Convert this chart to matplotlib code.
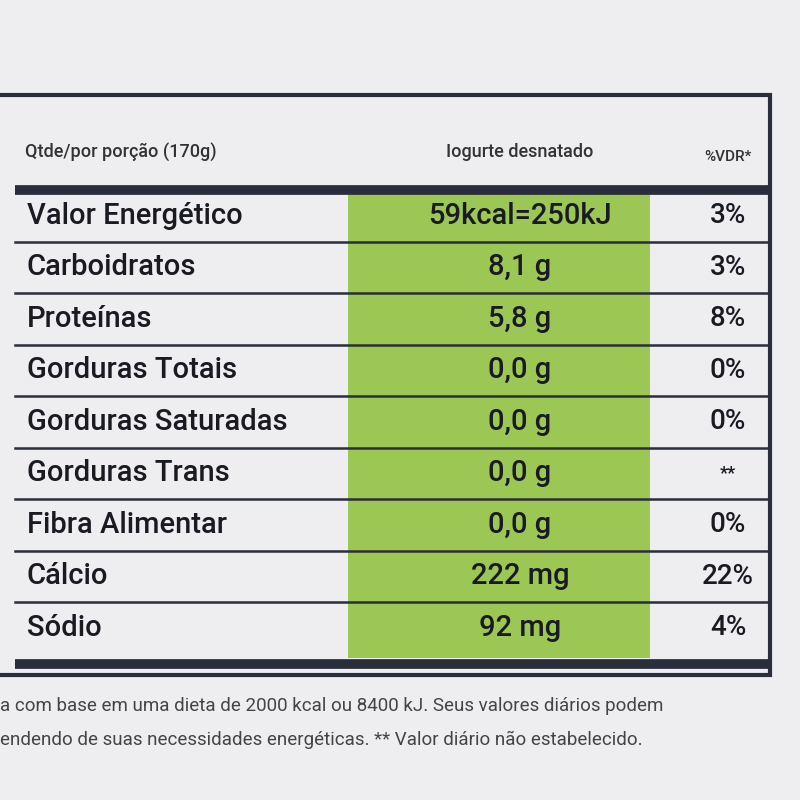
import matplotlib
matplotlib.use("Agg")
import matplotlib.pyplot as plt
from matplotlib.patches import Rectangle

nutrients = ["Valor Energético", "Carboidratos", "Proteínas", "Gorduras Totais",
             "Gorduras Saturadas", "Gorduras Trans", "Fibra Alimentar", "Cálcio", "Sódio"]
amounts = ["59kcal=250kJ", "8,1 g", "5,8 g", "0,0 g", "0,0 g", "0,0 g", "0,0 g", "222 mg", "92 mg"]
vdr = ["3%", "3%", "8%", "0%", "0%", "**", "0%", "22%", "4%"]
headers = ["Qtde/por porção (170g)", "Iogurte desnatado", "%VDR*"]
footer = ["a com base em uma dieta de 2000 kcal ou 8400 kJ. Seus valores diários podem",
          "endendo de suas necessidades energéticas. ** Valor diário não estabelecido."]

fam = ["Roboto", "DejaVu Sans"]
dark = "#2a2e3a"
fig = plt.figure(figsize=(8, 8), dpi=100)
fig.patch.set_facecolor("#eeeef1")
ax = fig.add_axes([0, 0, 1, 1])
ax.set_xlim(0, 800); ax.set_ylim(800, 0); ax.axis("off")

ax.add_patch(Rectangle((-5, 95), 775, 580, fill=False, ec=dark, lw=3))
ax.add_patch(Rectangle((348, 190), 302, 468, fc="#9cc754", ec="none"))
ax.plot([15, 770], [190, 190], color=dark, lw=7, solid_capstyle="butt")
ax.plot([15, 770], [664, 664], color=dark, lw=7, solid_capstyle="butt")

ax.text(25, 152, headers[0], fontsize=13, family=fam, weight="medium", color="#333", va="center")
ax.text(520, 152, headers[1], fontsize=13, family=fam, weight="medium", color="#333", va="center", ha="center")
ax.text(728, 157, headers[2], fontsize=11, family=fam, weight="medium", color="#333", va="center", ha="center")

top, h = 190, 51.5
for i, (n, a, v) in enumerate(zip(nutrients, amounts, vdr)):
    yc = top + h * (i + 0.5)
    ax.text(27, yc, n, fontsize=21, family=fam, weight="medium", color="#1a1a22", va="center")
    ax.text(520, yc, a, fontsize=21, family=fam, weight="medium", color="#1a1a22", va="center", ha="center")
    ax.text(728, yc, v, fontsize=20 if v != "**" else 13, family=fam, weight="medium",
            color="#1a1a22", va="center", ha="center")
    if i < len(nutrients) - 1:
        ax.plot([15, 770], [top + h * (i + 1)] * 2, color=dark, lw=1.8)

ax.text(0, 706, footer[0], fontsize=13.5, family=fam, color="#444", va="center")
ax.text(0, 740, footer[1], fontsize=13.5, family=fam, color="#444", va="center")
fig.savefig("out.png", dpi=100, facecolor=fig.get_facecolor())
